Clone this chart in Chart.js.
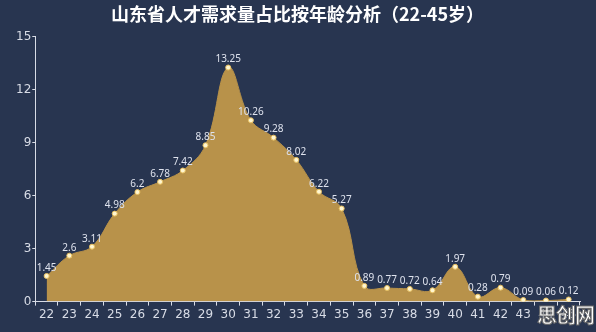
<!DOCTYPE html>
<html><head><meta charset="utf-8">
<script src="https://cdn.jsdelivr.net/npm/chart.js@4/dist/chart.umd.min.js"></script>
<style>
html,body{margin:0;padding:0;background:#283550;}
#wrap{position:relative;width:596px;height:332px;overflow:hidden;}
#wm{position:absolute;left:537px;top:302px;font:bold 20px "Noto Sans CJK SC";color:#fff;-webkit-text-stroke:1px #666;white-space:nowrap;letter-spacing:-1px;line-height:26px;}
</style>
</head><body>
<div id="wrap"><canvas id="c" width="596" height="332"></canvas><div id="wm">思创网</div></div>
<script>
const titleText = '山东省人才需求量占比按年龄分析（22-45岁）';
const categories = ['22','23','24','25','26','27','28','29','30','31','32','33','34','35','36','37','38','39','40','41','42','43','44','45'];
const values = [1.45,2.6,3.11,4.98,6.2,6.78,7.42,8.85,13.25,10.26,9.28,8.02,6.22,5.27,0.89,0.77,0.72,0.64,1.97,0.28,0.79,0.09,0.06,0.12];
const yTicks = [0,3,6,9,12,15];

const labelPlugin = {
  id:'vlabels',
  afterDatasetsDraw(chart){
    const ctx = chart.ctx;
    const meta = chart.getDatasetMeta(0);
    ctx.save();
    ctx.font = '10px "Noto Sans"';
    ctx.fillStyle = '#dfe3ee';
    ctx.textAlign = 'center';
    ctx.textBaseline = 'bottom';
    meta.data.forEach((p,i)=>{
      ctx.fillText(String(values[i]), p.x, p.y - 3);
    });
    ctx.restore();
  }
};

new Chart(document.getElementById('c'), {
  type:'line',
  data:{labels:categories, datasets:[{
    data:values,
    fill:'origin',
    backgroundColor:'#b8924a',
    borderColor:'#b8924a',
    borderWidth:1,
    tension:0.4,
    pointRadius:2.5,
    pointBackgroundColor:'#fff6d0',
    pointBorderColor:'#e8c060',
    pointBorderWidth:1
  }]},
  options:{
    responsive:false,
    animation:false,
    layout:{padding:{left:15,right:16,top:0,bottom:8}},
    plugins:{
      legend:{display:false},
      tooltip:{enabled:false},
      title:{display:true,text:titleText,color:'#ffffff',font:{size:18,weight:'bold',family:'"Noto Sans CJK SC"'},padding:{top:3,bottom:12}}
    },
    scales:{
      x:{
        offset:true,
        grid:{display:true,drawOnChartArea:false,color:'#d8dce6',tickLength:4,offset:true},
        border:{color:'#d8dce6'},
        ticks:{color:'#d8dce6',font:{size:12,family:'"DejaVu Sans"'},padding:2,maxRotation:0,autoSkip:false}
      },
      y:{
        min:0,max:15,
        afterBuildTicks(ax){ax.ticks = yTicks.map(v=>({value:v}));},
        grid:{display:true,drawOnChartArea:false,color:'#d8dce6',tickLength:3},
        border:{color:'#d8dce6'},
        ticks:{color:'#d8dce6',font:{size:12,family:'"DejaVu Sans"'},padding:1}
      }
    }
  },
  plugins:[labelPlugin]
});
</script>
</body></html>
